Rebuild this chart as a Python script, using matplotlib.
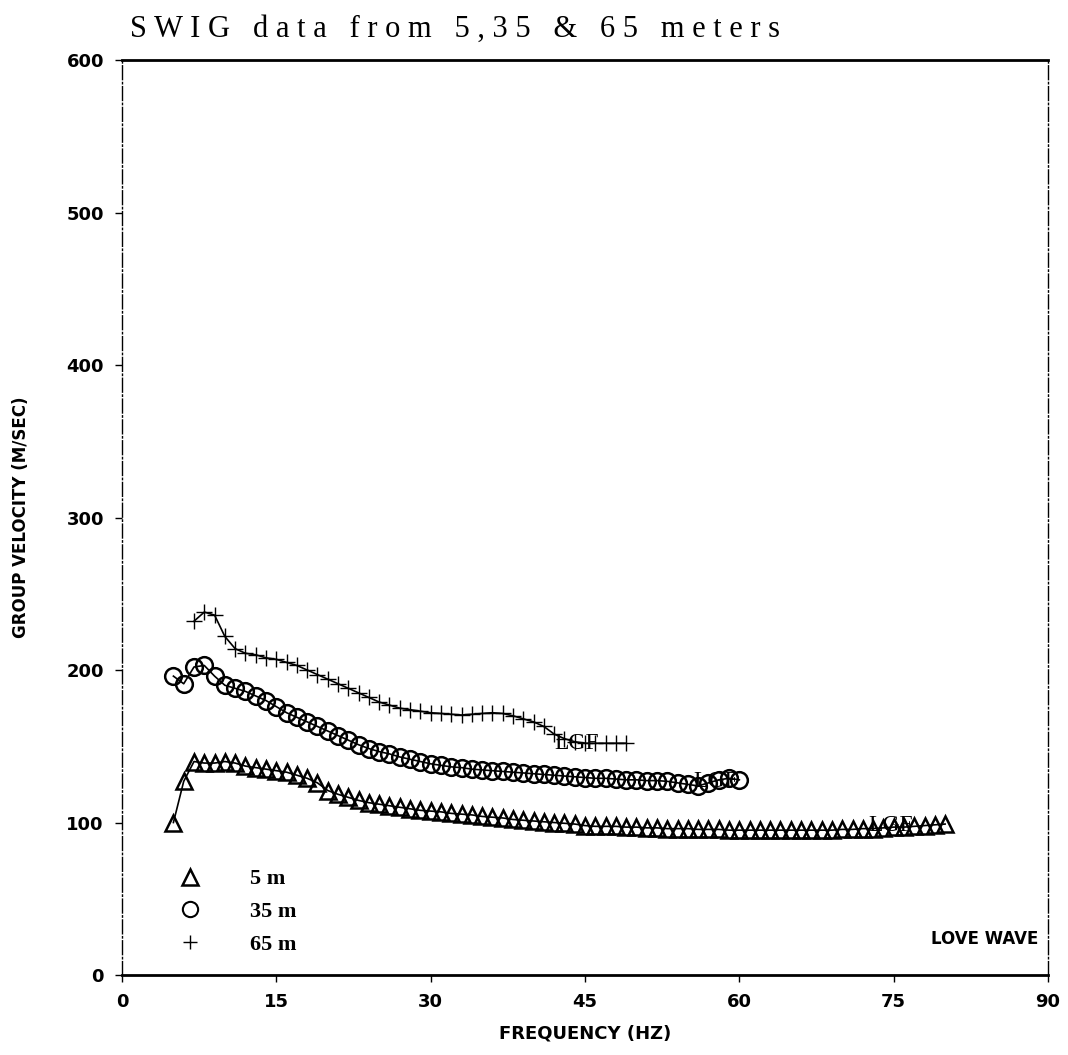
import matplotlib
matplotlib.use('Agg')
import matplotlib.pyplot as plt
from matplotlib.lines import Line2D
import numpy as np

# 5 m
f5 = np.arange(5, 81)
v5 = [100, 127, 140, 139, 139, 140, 139, 137, 136, 135,
      134, 133, 131, 129, 126, 121, 118.5, 116.5, 114.5, 113,
      112, 111, 110, 109, 108, 107.5, 107, 106, 105.5, 105,
      104, 103.5, 103, 102, 101.5, 101, 100.5, 100, 99.5, 99,
      98, 97.5, 97.5, 97.5, 97, 97, 96.5, 96.5, 96, 96,
      96, 95.5, 95.5, 95.5, 95, 95, 95, 95, 95, 95,
      95, 95, 95, 95, 95, 95.5, 95.5, 96, 96, 96.5,
      97, 97, 97.5, 98, 98.5, 99]

# 35 m
f35 = np.arange(5, 61)
v35 = [196, 191, 202, 203, 196, 190, 188, 186, 183, 180,
       176, 172, 169, 166, 163, 160, 157, 154, 151, 148.5,
       146.5, 145, 143, 141.5, 140, 138.5, 137.5, 136.5, 136, 135,
       134.5, 134, 133.5, 133, 132.5, 132, 131.5, 131, 130.5, 130,
       129.5, 129, 129, 128.5, 128, 128, 127.5, 127.5, 127, 126,
       125, 124, 126, 128, 129, 128]

# 65 m
f65 = np.arange(7, 50)
v65 = [232, 238, 236, 222, 214, 211, 210, 208, 207, 205,
       203, 200, 197, 194, 191, 188, 185, 182, 179, 177,
       175, 174, 173, 172, 171.5, 171, 170.5, 171, 171.5, 172,
       171.5, 170, 168, 166, 163, 158, 155, 153, 152, 152,
       152, 152, 152]

labels = ['5 m', '35 m', '65 m']
lgf_x = [42, 55.5, 72.5]
lgf_y = [152, 127, 98]

fig, ax = plt.subplots(figsize=(10.68, 10.55), dpi=100)
fig.subplots_adjust(left=0.1142, right=0.9813, bottom=0.0758, top=0.9431)

ax.plot(f5, v5, color='black', lw=1.2, marker='^', ms=11, mfc='none', mew=1.8)
ax.plot(f35, v35, color='black', lw=1.2, marker='o', ms=12, mfc='none', mew=1.8)
ax.plot(f65, v65, color='black', lw=1.2, marker='+', ms=11, mew=1.0)

for x, y in zip(lgf_x, lgf_y):
    ax.text(x, y, 'LGF', family='Liberation Serif', fontsize=17, ha='left', va='center')

ax.set_xlim(0, 90)
ax.set_ylim(0, 600)
ax.set_xticks(np.arange(0, 91, 15))
ax.set_yticks(np.arange(0, 601, 100))
ax.tick_params(direction='out', length=5, width=1, labelsize=13, pad=8)
for lab in ax.get_xticklabels() + ax.get_yticklabels():
    lab.set_fontweight('bold')

for s in ['left', 'right']:
    ax.spines[s].set_linestyle((0, (10, 2, 1, 2)))
    ax.spines[s].set_linewidth(1.0)
for s in ['top', 'bottom']:
    ax.spines[s].set_linewidth(2.0)

ax.set_xlabel('FREQUENCY (HZ)', fontsize=13, fontweight='bold', labelpad=10)
ax.set_ylabel('GROUP VELOCITY (M/SEC)', fontsize=12, fontweight='bold', labelpad=26)

fig.text(0.122, 0.972, 'S W I G   d a t a   f r o m   5 , 3 5   &   6 5   m e t e r s',
         family='Liberation Serif', fontsize=22, ha='left', va='center')

ax.text(0.99, 0.03, 'LOVE WAVE', transform=ax.transAxes, fontsize=12,
        fontweight='bold', ha='right', va='bottom')

handles = [Line2D([], [], color='black', ls='none', marker='^', ms=11, mfc='none', mew=1.8),
           Line2D([], [], color='black', ls='none', marker='o', ms=11, mfc='none', mew=1.5),
           Line2D([], [], color='black', ls='none', marker='+', ms=10, mew=1.0)]
ax.legend(handles, labels, loc='lower left', bbox_to_anchor=(0.04, 0.0), frameon=False,
          prop={'family': 'Liberation Serif', 'weight': 'bold', 'size': 16},
          handlelength=1.0, handletextpad=2.2, labelspacing=0.55, numpoints=1)

fig.savefig('out.png', dpi=100)
